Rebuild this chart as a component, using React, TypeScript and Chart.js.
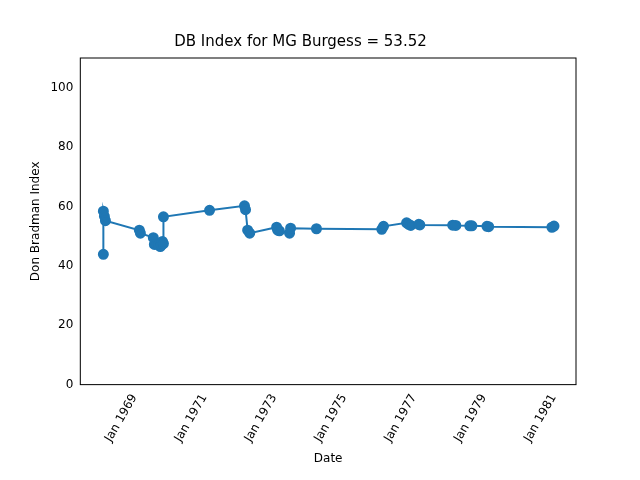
import React, { useEffect, useRef } from "react";
import { Chart, registerables } from "chart.js";

Chart.register(...registerables);

// decimal years
const dates = [
  1968.11, 1968.11, 1968.14, 1968.17, 1969.14, 1969.17, 1969.54, 1969.57, 1969.69, 1969.74,
  1969.77, 1969.8, 1969.83, 1969.83, 1971.15, 1972.15, 1972.18, 1972.24, 1972.3, 1973.07,
  1973.1, 1973.15, 1973.44, 1973.47, 1974.21, 1976.08, 1976.13, 1976.79, 1976.85, 1976.91,
  1977.14, 1977.17, 1978.11, 1978.2, 1978.6, 1978.66, 1979.09, 1979.14, 1980.95, 1981.01,
];
const dbIndex = [
  43.9, 58.4, 56.7, 55.2, 52.0, 51.0, 49.5, 47.2, 47.0, 46.5,
  47.0, 48.2, 47.5, 56.5, 58.7, 60.2, 58.9, 52.0, 51.0, 53.0,
  52.0, 51.8, 51.0, 52.7, 52.5, 52.3, 53.3, 54.5, 54.0, 53.6,
  54.0, 53.8, 53.7, 53.6, 53.5, 53.5, 53.3, 53.2, 53.0, 53.4,
];
const tickYears = [1969, 1971, 1973, 1975, 1977, 1979, 1981];

const boxPlugin = {
  id: "box",
  afterDraw(chart: Chart) {
    const { ctx, chartArea: a } = chart;
    ctx.save();
    ctx.strokeStyle = "#000";
    ctx.lineWidth = 1;
    ctx.strokeRect(a.left, a.top, a.right - a.left, a.bottom - a.top);
    ctx.restore();
  },
};

const App: React.FC = () => {
  const canvasRef = useRef<HTMLCanvasElement | null>(null);

  useEffect(() => {
    const ctx = canvasRef.current?.getContext("2d");
    if (!ctx) return;
    document.body.style.margin = "0";
    Chart.defaults.font.family = "DejaVu Sans";
    Chart.defaults.color = "#000";

    const chart = new Chart(ctx, {
      type: "line",
      data: {
        datasets: [
          {
            data: dates.map((d, i) => ({ x: d, y: dbIndex[i] })),
            borderColor: "#1f77b4",
            backgroundColor: "#1f77b4",
            borderWidth: 2,
            pointRadius: 4.5,
            pointHoverRadius: 4.5,
          },
        ],
      },
      options: {
        animation: false,
        responsive: false,
        layout: { padding: { left: 25, right: 64, top: 0, bottom: 10 } },
        plugins: {
          legend: { display: false },
          tooltip: { enabled: false },
          title: {
            display: true,
            text: "DB Index for MG Burgess = 53.52",
            font: { size: 15, weight: "normal" },
            padding: { top: 33, bottom: 7 },
          },
        },
        scales: {
          x: {
            type: "linear",
            min: 1967.45,
            max: 1981.64,
            afterBuildTicks: (axis: any) => {
              axis.ticks = tickYears.map((v) => ({ value: v }));
            },
            ticks: {
              callback: (v: any) => "Jan " + v,
              maxRotation: 60,
              minRotation: 60,
              font: { size: 12 },
            },
            grid: { display: false, drawTicks: true, tickLength: 4 },
            title: { display: true, text: "Date", font: { size: 12 } },
          },
          y: {
            min: 0,
            max: 110,
            afterBuildTicks: (axis: any) => {
              axis.ticks = [0, 20, 40, 60, 80, 100].map((v) => ({ value: v }));
            },
            ticks: { font: { size: 12 } },
            grid: { display: false, tickLength: 4 },
            title: { display: true, text: "Don Bradman Index", font: { size: 12 } },
          },
        },
      },
      plugins: [boxPlugin],
    });

    return () => chart.destroy();
  }, []);

  return <canvas ref={canvasRef} width={640} height={480} />;
};

export default App;
